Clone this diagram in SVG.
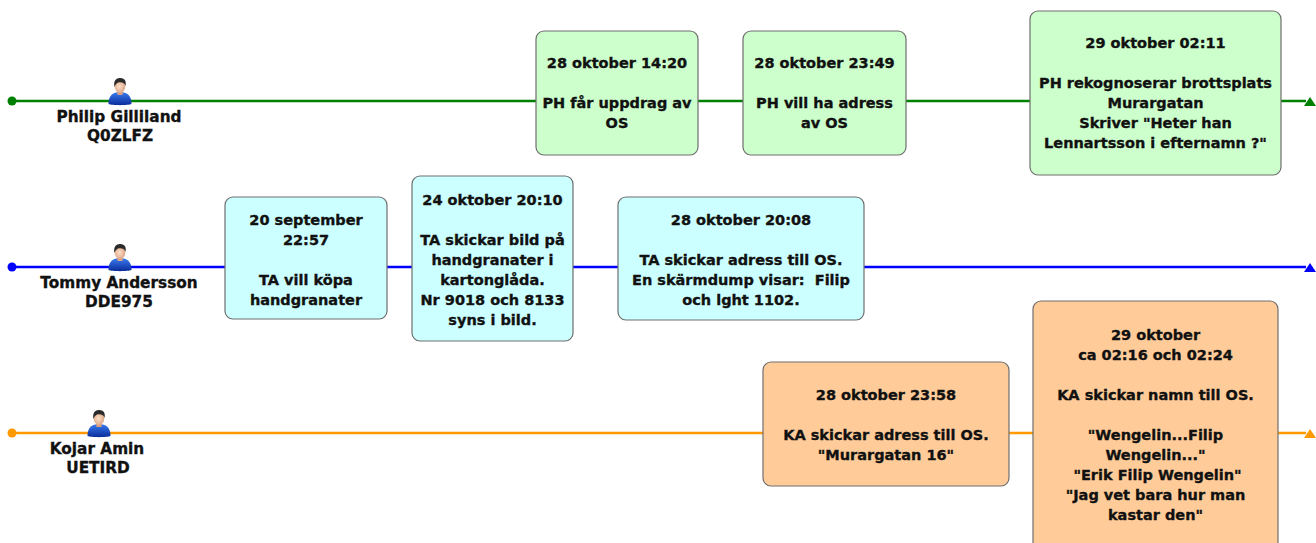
<svg xmlns="http://www.w3.org/2000/svg" xmlns:xlink="http://www.w3.org/1999/xlink" width="1316" height="543" viewBox="0 0 1316 543">
<style>
text{font-family:"DejaVu Sans","Verdana",sans-serif;font-weight:bold;font-size:14.5px;fill:#111;stroke:#111;stroke-width:0.35;text-anchor:middle}
text.lbl{font-size:15.3px}
.box{stroke:#6e6e6e;stroke-width:1.2}
.g{fill:#ccffcc}.b{fill:#ccffff}.o{fill:#ffcc99}
.ln{stroke-width:2.4;fill:none}
</style>
<defs>
<linearGradient id="shirt" x1="0" y1="0" x2="0" y2="1">
<stop offset="0" stop-color="#3a7cf0"/><stop offset="1" stop-color="#0b2c9a"/>
</linearGradient>
<radialGradient id="skin" cx="0.45" cy="0.5" r="0.6">
<stop offset="0" stop-color="#fde0c8"/><stop offset="1" stop-color="#d9a080"/>
</radialGradient>
<g id="person">
<path d="M-11.5,26 C-11.5,17.5 -7,14 0,14 C7,14 11.5,17.5 11.5,26 C8,27.5 -8,27.5 -11.5,26 Z" fill="url(#shirt)"/>
<path d="M-3,13 L3,13 L2.5,17 L-2.5,17 Z" fill="#d9a080"/>
<ellipse cx="0" cy="8.5" rx="5.3" ry="6.5" fill="url(#skin)"/>
<path d="M-5.6,9 C-6.8,2 -3,-0.5 0.5,0 C4.7,0.3 6.5,3 5.6,8 C4.7,5 3,4 -1,4.2 C-3,4.5 -4.4,6 -5.6,9 Z" fill="#2b2b2b"/>
</g>
</defs>

<g id="connectors">
<line class="ln" x1="12" y1="101" x2="1306" y2="101" stroke="#008000"/>
<circle cx="12" cy="101" r="4.5" fill="#008000"/>
<polygon points="1304,106 1310,97 1316,106" fill="#008000"/>
<line class="ln" x1="12" y1="267" x2="1306" y2="267" stroke="#0000ff"/>
<circle cx="12" cy="267" r="4.5" fill="#0000ff"/>
<polygon points="1304,272 1310,263 1316,272" fill="#0000ff"/>
<line class="ln" x1="12" y1="433" x2="1306" y2="433" stroke="#ff9900"/>
<circle cx="12" cy="433" r="4.5" fill="#ff9900"/>
<polygon points="1304,438 1310,429 1316,438" fill="#ff9900"/>
</g>

<g id="person-philip">
<use xlink:href="#person" transform="translate(120,78)"/>
<text class="lbl" x="119" y="122">Philip Gilliland</text>
<text class="lbl" x="120" y="141">Q0ZLFZ</text>
</g>
<g id="person-tommy">
<use xlink:href="#person" transform="translate(120,244)"/>
<text class="lbl" x="119" y="288">Tommy Andersson</text>
<text class="lbl" x="119" y="307">DDE975</text>
</g>
<g id="person-kojar">
<use xlink:href="#person" transform="translate(99,410)"/>
<text class="lbl" x="97" y="454">Kojar Amin</text>
<text class="lbl" x="98" y="473">UETIRD</text>
</g>

<g id="event-g1">
<rect class="box g" x="536" y="31" width="162" height="124" rx="8"/>
<text x="617" y="68">28 oktober 14:20</text>
<text x="617" y="108">PH får uppdrag av</text>
<text x="617" y="128">OS</text>
</g>
<g id="event-g2">
<rect class="box g" x="743" y="31" width="163" height="124" rx="8"/>
<text x="824.5" y="68">28 oktober 23:49</text>
<text x="824.5" y="108">PH vill ha adress</text>
<text x="824.5" y="128">av OS</text>
</g>
<g id="event-g3">
<rect class="box g" x="1030" y="11" width="251" height="164" rx="8"/>
<text x="1155.5" y="48">29 oktober 02:11</text>
<text x="1155.5" y="88">PH rekognoserar brottsplats</text>
<text x="1155.5" y="108">Murargatan</text>
<text x="1155.5" y="128">Skriver "Heter han</text>
<text x="1155.5" y="148">Lennartsson i efternamn ?"</text>
</g>

<g id="event-b1">
<rect class="box b" x="225" y="197" width="162" height="122" rx="8"/>
<text x="306" y="225">20 september</text>
<text x="306" y="245">22:57</text>
<text x="306" y="285">TA vill köpa</text>
<text x="306" y="305">handgranater</text>
</g>
<g id="event-b2">
<rect class="box b" x="412" y="176" width="161" height="165" rx="8"/>
<text x="492.5" y="205">24 oktober 20:10</text>
<text x="492.5" y="245">TA skickar bild på</text>
<text x="492.5" y="265">handgranater i</text>
<text x="492.5" y="285">kartonglåda.</text>
<text x="492.5" y="305">Nr 9018 och 8133</text>
<text x="492.5" y="325">syns i bild.</text>
</g>
<g id="event-b3">
<rect class="box b" x="618" y="197" width="246" height="123" rx="8"/>
<text x="741" y="225">28 oktober 20:08</text>
<text x="741" y="265">TA skickar adress till OS.</text>
<text x="741" y="285" xml:space="preserve">En skärmdump visar:  Filip</text>
<text x="741" y="305">och lght 1102.</text>
</g>

<g id="event-o1">
<rect class="box o" x="763" y="362" width="246" height="124" rx="8"/>
<text x="886" y="400">28 oktober 23:58</text>
<text x="886" y="440">KA skickar adress till OS.</text>
<text x="886" y="460">"Murargatan 16"</text>
</g>
<g id="event-o2">
<rect class="box o" x="1033" y="301" width="245" height="250" rx="8"/>
<text x="1155.5" y="340">29 oktober</text>
<text x="1155.5" y="360">ca 02:16 och 02:24</text>
<text x="1155.5" y="400">KA skickar namn till OS.</text>
<text x="1155.5" y="440">"Wengelin...Filip</text>
<text x="1155.5" y="460">Wengelin..."</text>
<text x="1157.5" y="480">"Erik Filip Wengelin"</text>
<text x="1155.5" y="500">"Jag vet bara hur man</text>
<text x="1155.5" y="520">kastar den"</text>
</g>
</svg>
